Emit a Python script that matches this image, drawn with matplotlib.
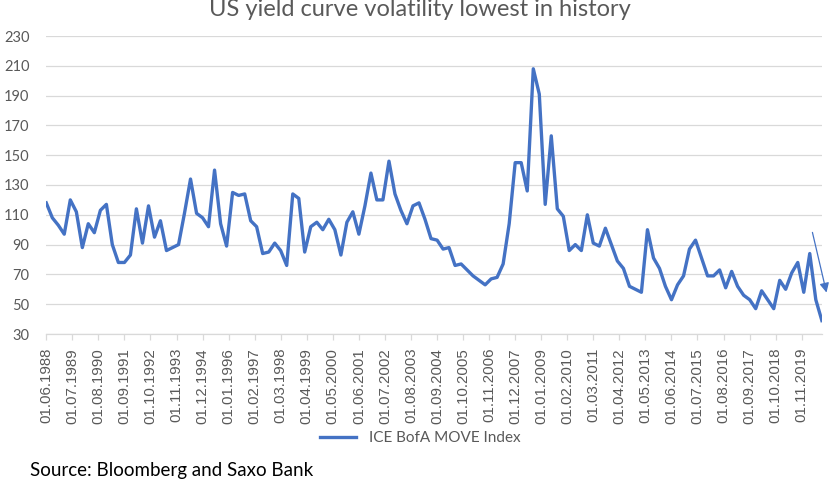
import matplotlib
matplotlib.use("Agg")
import matplotlib.pyplot as plt
import matplotlib.dates as mdates
import pandas as pd

# MOVE index, quarterly readings from 06.1988
start = "1988-06-01"
move = [118, 108, 103, 97, 120, 112, 88, 104, 98, 113, 117, 90, 78, 78, 83, 114, 91, 116, 95, 106, 86, 88,
        90, 111, 134, 111, 108, 102, 140, 104, 89, 125, 123, 124, 106, 102, 84, 85, 91, 86, 76, 124,
        121, 85, 102, 105, 100, 107, 100, 83, 105, 112, 97, 116, 138, 120, 120, 146, 124, 113, 104, 116, 118, 107, 94, 93,
        87, 88, 76, 77, 73, 69, 66, 63, 67, 68, 77, 104, 145, 145, 126, 208, 191, 117, 163, 114, 109,
        86, 90, 86, 110, 91, 89, 101, 90, 79, 74, 62, 60, 58, 100, 81, 74, 62, 53, 63, 69, 87, 93,
        81, 69, 69, 73, 61, 72, 62, 56, 53, 47, 59, 53, 47, 66, 60, 71, 78, 58, 84, 53, 39]
dates = pd.date_range(start, periods=len(move), freq="3MS")

# axis labels every 13 months
tick_dates = pd.date_range(start, "2019-11-01", freq="13MS")
yticks = list(range(30, 231, 20))

title = "US yield curve volatility lowest in history"
series_name = "ICE BofA MOVE Index"
source = "Source: Bloomberg and Saxo Bank"

blue = "#4472C4"
grey_txt = "#595959"
grid_col = "#D9D9D9"

fig = plt.figure(figsize=(8.4, 4.8), dpi=100)
ax = fig.add_axes([46 / 840, 1 - 334 / 480, (822 - 46) / 840, (334 - 36) / 480])

ax.plot(dates, move, color=blue, lw=2.4, solid_joinstyle="round", label=series_name, zorder=3)

ax.set_ylim(30, 230)
ax.set_yticks(yticks)
ax.set_xlim(dates[0] - pd.Timedelta(days=4), dates[-1] + pd.Timedelta(days=2))
ax.set_xticks(tick_dates)
ax.xaxis.set_major_formatter(mdates.DateFormatter("%d.%m.%Y"))

ax.grid(axis="y", color=grid_col, lw=0.9)
ax.set_axisbelow(True)
for s in ["top", "right", "left"]:
    ax.spines[s].set_visible(False)
ax.spines["bottom"].set_color(grid_col)
ax.spines["bottom"].set_linewidth(0.9)

ax.tick_params(axis="y", length=0, pad=12, labelsize=10.5, labelcolor=grey_txt)
for t in ax.get_yticklabels():
    t.set_fontfamily("Lato")
ax.tick_params(axis="x", length=4, width=0.9, color=grid_col, pad=6,
               labelsize=10.8, labelcolor=grey_txt, labelrotation=90)
for t in ax.get_xticklabels():
    t.set_fontfamily("Liberation Sans")

# arrow pointing at the latest low
ax.annotate("", xy=(pd.Timestamp("2020-11-20"), 56), xytext=(pd.Timestamp("2020-04-01"), 100),
            arrowprops=dict(arrowstyle="-|>", color=blue, lw=0.9, mutation_scale=14),
            annotation_clip=False)

fig.text(0.5, 1 - 9 / 480, title, ha="center", va="center", fontsize=17,
         color=grey_txt, family="Lato")

leg = fig.legend(loc="center", bbox_to_anchor=(0.5, 1 - 438 / 480), frameon=False,
                 handlelength=2.4, prop={"family": "Lato", "size": 11})
for t in leg.get_texts():
    t.set_color(grey_txt)

fig.text(30 / 840, 1 - 462 / 480, source, ha="left", va="top", fontsize=13.5,
         color="black", family="Lato")

fig.savefig("out.png", dpi=100)
